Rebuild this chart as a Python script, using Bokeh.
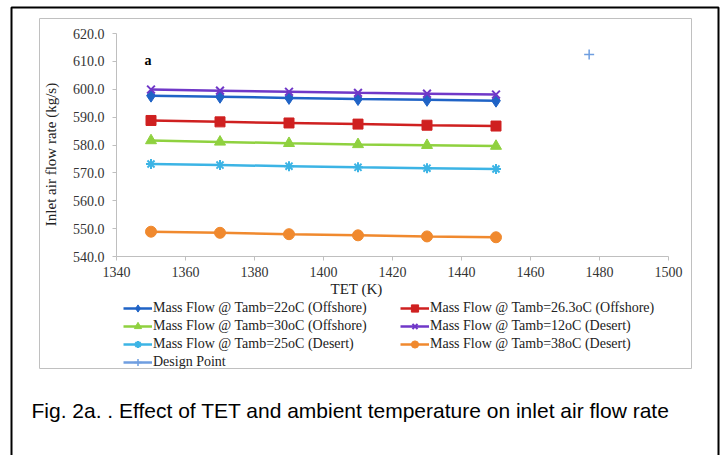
import math
from bokeh.plotting import figure
from bokeh.models import (Range1d, FixedTicker, NumeralTickFormatter, Legend, LegendItem,
                          Label, BoxAnnotation)
from bokeh.embed import file_html
from bokeh.resources import INLINE

# ---------------- data ----------------
tet = [1350, 1370, 1390, 1410, 1430, 1450]
flow_22_offshore = [597.7, 597.3, 596.9, 596.5, 596.2, 595.9]
flow_26_3_offshore = [588.8, 588.3, 587.9, 587.5, 587.1, 586.8]
flow_30_offshore = [581.6, 581.1, 580.6, 580.2, 579.9, 579.6]
flow_12_desert = [599.9, 599.5, 599.1, 598.7, 598.4, 598.1]
flow_25_desert = [573.2, 572.8, 572.4, 572.0, 571.7, 571.4]
flow_38_desert = [548.9, 548.5, 548.0, 547.6, 547.2, 546.9]
design_tet = [1477]
design_flow = [612.5]

x_ticks = [1340, 1360, 1380, 1400, 1420, 1440, 1460, 1480, 1500]
y_ticks = [540, 550, 560, 570, 580, 590, 600, 610, 620]

labels = [
    "Mass Flow @ Tamb=22oC (Offshore)",
    "Mass Flow @ Tamb=26.3oC (Offshore)",
    "Mass Flow @ Tamb=30oC (Offshore)",
    "Mass Flow @ Tamb=12oC (Desert)",
    "Mass Flow @ Tamb=25oC (Desert)",
    "Mass Flow @ Tamb=38oC (Desert)",
    "Design Point",
]
caption = "Fig. 2a. . Effect of TET and ambient temperature on inlet air flow rate"
x_title = "TET (K)"
y_title = "Inlet air flow rate (kg/s)"

SERIF = "Liberation Serif"
SANS = "Liberation Sans"

# ---------------- layout geometry (pixels) ----------------
W, H = 728, 455
PX_L, PX_R, PY_T, PY_B = 116, 668, 33, 256   # plot-area edges on the page
X0, X1 = x_ticks[0], x_ticks[-1]
Y0, Y1 = y_ticks[0], y_ticks[-1]
kx = (PX_R - PX_L) / (X1 - X0)
ky = (PY_B - PY_T) / (Y1 - Y0)
x_range = Range1d(X0 - PX_L / kx, X1 + (W - PX_R) / kx)
y_range = Range1d(Y0 - (H - PY_B) / ky, Y1 + PY_T / ky)

p = figure(width=W, height=H, output_backend="svg", toolbar_location=None,
           x_range=x_range, y_range=y_range,
           min_border_left=0, min_border_right=0, min_border_top=0, min_border_bottom=0)
p.background_fill_color = "white"
p.border_fill_color = "white"
p.outline_line_color = None
p.xgrid.visible = False
p.ygrid.visible = False

p.xaxis.fixed_location = Y0
p.yaxis.fixed_location = X0
p.xaxis.bounds = (X0, X1)
p.yaxis.bounds = (Y0, Y1)
for ax in (p.xaxis[0], p.yaxis[0]):
    ax.axis_line_color = "#bfbfbf"
    ax.major_tick_line_color = "#bfbfbf"
    ax.minor_tick_line_color = None
    ax.major_tick_in = 0
    ax.major_tick_out = 4
    ax.major_label_text_font = SERIF
    ax.major_label_text_font_size = "14px"
    ax.major_label_text_color = "#333333"
p.xaxis.ticker = FixedTicker(ticks=x_ticks)
p.yaxis.ticker = FixedTicker(ticks=y_ticks)
p.yaxis.formatter = NumeralTickFormatter(format="0.0")
p.xaxis.major_label_standoff = 6
p.yaxis.major_label_standoff = 8

series = [
    (flow_22_offshore, "#1f63c6", "diamond", 13),
    (flow_26_3_offshore, "#cf2020", "square", 10),
    (flow_30_offshore, "#8fd13f", "triangle", 11),
    (flow_12_desert, "#7038c8", "x", 11),
    (flow_25_desert, "#3cb4e5", "asterisk", 10),
    (flow_38_desert, "#f0892e", "circle", 11),
]
items = []
for (vals, col, mk, sz), lab in zip(series, labels[:6]):
    r1 = p.line(tet, vals, line_color=col, line_width=2.5)
    r2 = p.scatter(tet, vals, marker=mk, size=sz, fill_color=col, line_color=col,
                   line_width=2 if mk in ("x", "asterisk") else 1)
    items.append(LegendItem(label=lab, renderers=[r1, r2]))
rdl = p.line(design_tet, design_flow, line_color="#6f9ee0", line_width=2.5)
rd = p.scatter(design_tet, design_flow, marker="cross", size=10, line_color="#6f9ee0",
               line_width=1.5)
items.append(LegendItem(label=labels[6], renderers=[rdl, rd]))


def make_legend(its, loc):
    lg = Legend(items=its, location=loc, orientation="vertical")
    lg.label_text_font = SERIF
    lg.label_text_font_size = "14px"
    lg.label_text_color = "#222222"
    lg.glyph_width = 29
    lg.glyph_height = 18
    lg.label_height = 18
    lg.label_standoff = 1
    lg.spacing = 0
    lg.padding = 0
    lg.margin = 0
    lg.border_line_color = None
    lg.background_fill_alpha = 0
    return lg

# legend positions: (left, bottom) in screen pixels from the canvas bottom-left
leg1 = make_legend([items[0], items[2], items[4], items[6]], (123, 84))
leg2 = make_legend([items[1], items[3], items[5]], (400, 102))
p.add_layout(leg1)
p.add_layout(leg2)

p.add_layout(Label(x=356, y=H - 288, x_units="screen", y_units="screen", text=x_title,
                   text_align="center", text_baseline="middle", text_font=SERIF,
                   text_font_size="15px", text_color="#222222"))
p.add_layout(Label(x=50, y=H - 154, x_units="screen", y_units="screen", text=y_title,
                   angle=math.pi / 2, text_align="center", text_baseline="middle",
                   text_font=SERIF, text_font_size="15px", text_color="#222222"))
p.add_layout(Label(x=1349.1, y=610.3, text="a", text_align="center",
                   text_baseline="middle", text_font=SERIF, text_font_size="14px",
                   text_font_style="bold", text_color="black"))
p.add_layout(Label(x=31, y=H - 410, x_units="screen", y_units="screen", text=caption,
                   text_align="left", text_baseline="alphabetic", text_font=SANS,
                   text_font_size="21px", text_color="black"))

p.add_layout(BoxAnnotation(left=39, right=691, top=H - 18, bottom=H - 368,
                           left_units="screen", right_units="screen",
                           top_units="screen", bottom_units="screen",
                           fill_alpha=0, line_color="#c0c0c0", line_alpha=1,
                           line_width=1))
p.add_layout(BoxAnnotation(left=11, right=718, top=H - 7, bottom=-20,
                           left_units="screen", right_units="screen",
                           top_units="screen", bottom_units="screen",
                           fill_alpha=0, line_color="black", line_alpha=1,
                           line_width=2))

open("out.html", "w").write(file_html(p, INLINE))
